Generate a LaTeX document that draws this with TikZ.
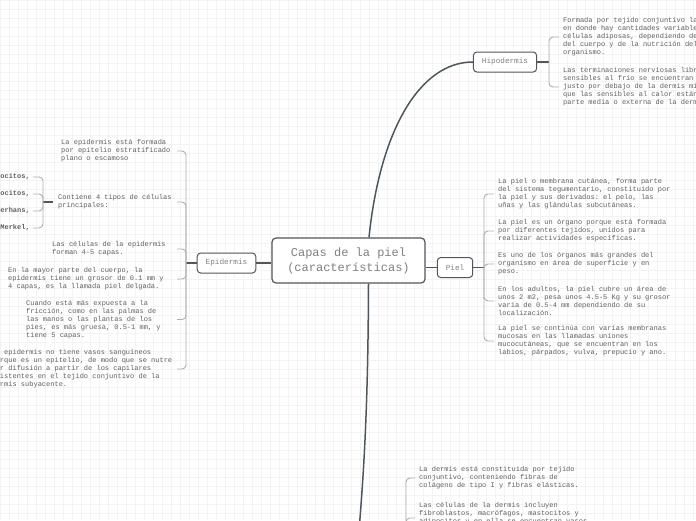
\documentclass[tikz,border=0pt]{standalone}
\usepackage{fontspec}
\setmonofont{Liberation Mono}
\usetikzlibrary{positioning}
\definecolor{inkc}{HTML}{50565C}
\definecolor{brkc}{HTML}{A9AEB3}
\definecolor{txtc}{HTML}{606060}
\definecolor{labc}{HTML}{808080}
\definecolor{gridc}{HTML}{F3F3F3}

\tikzset{
  central/.style={draw=inkc,line width=1.2pt,rounded corners=4pt,fill=white,text=labc,
    font=\ttfamily\fontsize{12}{15}\selectfont,align=center,
    minimum width=153pt,minimum height=45pt,inner sep=0pt},
  topic/.style={draw=inkc,line width=1pt,rounded corners=3.5pt,fill=white,text=labc,
    font=\ttfamily\fontsize{7.7}{9}\selectfont,minimum height=20pt,inner xsep=8.5pt,inner ysep=0pt},
  note/.style={text=txtc,font=\ttfamily\fontsize{7}{8}\selectfont,align=left,inner xsep=4pt,inner ysep=1pt,anchor=west},
  lnote/.style={note,inner xsep=1pt},
  leaf/.style={text=txtc,font=\ttfamily\bfseries\fontsize{7}{8}\selectfont,inner xsep=3pt,inner ysep=1pt,anchor=east},
  link/.style={draw=inkc,line width=1.2pt},
  brk/.style={draw=brkc,line width=0.9pt,rounded corners=4pt},
}

\begin{document}
\begin{tikzpicture}[x=1pt,y=-1pt]
  \clip (0,0) rectangle (696,520);
  \fill[white] (0,0) rectangle (696,520);
  \foreach \gx in {0,9,...,693}{\draw[gridc,line width=0.4pt] (\gx,0) -- (\gx,520);}
  \foreach \gy in {0,9,...,513}{\draw[gridc,line width=0.4pt] (0,\gy) -- (696,\gy);}

  % main topics
  \node[central] (center) at (348.5,260.5) {Capas de la piel\\(características)};
  \node[topic] (epi) at (226.5,263) {Epidermis};
  \node[topic] (piel) at (455,267.5) {Piel};
  \node[topic] (hipo) at (505,62) {Hipodermis};
  \coordinate (derm) at (355,575);

  \draw[link] (epi.east) -- (epi.east -| center.west);
  \draw[link] (piel.west -| center.east) -- (piel.west);
  \draw[link,line width=1.5pt] ([xshift=20.5pt]center.north) .. controls (380,130) and (420,62) .. (hipo.west);
  \draw[link,line width=1.5pt] ([xshift=20pt]center.south) .. controls (368,420) and (363,490) .. (derm);

  % Hipodermis
  \coordinate (hipoJ) at (549,62);
  \node[note] (h1) at (559,37) {Formada por tejido conjuntivo laxo,\\en donde hay cantidades variables de\\células adiposas, dependiendo de la región\\del cuerpo y de la nutrición del\\organismo.};
  \node[note] (h2) at (559,87) {Las terminaciones nerviosas libres\\sensibles al frío se encuentran\\justo por debajo de la dermis mientras\\que las sensibles al calor están en la\\parte media o externa de la dermis.};
  \draw[link] (hipo.east) -- (hipoJ);
  \foreach \t in {h1,h2}{\draw[brk] (hipoJ) |- (\t.west);}

  % Piel
  \coordinate (pielJ) at (484,267.5);
  \node[note] (p1) at (494,194) {La piel o membrana cutánea, forma parte\\del sistema tegumentario, constituido por\\la piel y sus derivados: el pelo, las\\uñas y las glándulas subcutáneas.};
  \node[note] (p2) at (494,231) {La piel es un órgano porque está formada\\por diferentes tejidos, unidos para\\realizar actividades específicas.};
  \node[note] (p3) at (494,264) {Es uno de los órganos más grandes del\\organismo en área de superficie y en\\peso.};
  \node[note] (p4) at (494,301) {En los adultos, la piel cubre un área de\\unos 2 m2, pesa unos 4.5-5 Kg y su grosor\\varia de 0.5-4 mm dependiendo de su\\localización.};
  \node[note] (p5) at (494,341) {La piel se continúa con varias membranas\\mucosas en las llamadas uniones\\mucocutáneas, que se encuentran en los\\labios, párpados, vulva, prepucio y ano.};
  \draw[link] (piel.east) -- (pielJ);
  \foreach \t in {p1,p2,p3,p4,p5}{\draw[brk] (pielJ) |- (\t.west);}

  % Epidermis
  \coordinate (epiJ) at (186,263);
  \coordinate (epiT) at (177,263);
  \node[lnote] (e1) at (60,151) {La epidermis está formada\\por epitelio estratificado\\plano o escamoso};
  \node[lnote] (e2) at (57,202) {Contiene 4 tipos de células\\principales:};
  \node[lnote] (e3) at (51,249) {Las células de la epidermis\\forman 4-5 capas.};
  \node[lnote] (e4) at (7,279) {En la mayor parte del cuerpo, la\\epidermis tiene un grosor de 0.1 mm y\\4 capas, es la llamada piel delgada.};
  \node[lnote] (e5) at (25,319.5) {Cuando está más expuesta a la\\fricción, como en las palmas de\\las manos o las plantas de los\\pies, es más gruesa, 0.5-1 mm, y\\tiene 5 capas.};
  \node[lnote] (e6) at (-9.6,369) {La epidermis no tiene vasos sanguíneos\\porque es un epitelio, de modo que se nutre\\por difusión a partir de los capilares\\existentes en el tejido conjuntivo de la\\dermis subyacente.};
  \draw[link] (epi.west) -- (epiJ);
  \foreach \t in {e1,e2,e3,e4,e5,e6}{\draw[brk] (epiJ) |- (\t.east -| epiT);}

  % tipos de celulas
  \coordinate (celJ) at (43,202);
  \node[leaf] (c1) at (33,177) {Queratinocitos,};
  \node[leaf] (c2) at (33,194) {Melanocitos,};
  \node[leaf] (c3) at (33,211) {Células de Langerhans,};
  \node[leaf] (c4) at (33,228) {Células de Merkel,};
  \draw[link] ([xshift=-4pt]e2.west) -- (celJ);
  \foreach \t in {c1,c2,c3,c4}{\draw[brk] (celJ) |- (\t.east);}

  % Dermis
  \coordinate (dermJ) at (406,545);
  \node[note] (d1) at (415,478) {La dermis está constituida por tejido\\conjuntivo, conteniendo fibras de\\colágeno de tipo I y fibras elásticas.};
  \node[note] (d2) at (415,518) {Las células de la dermis incluyen\\fibroblastos, macrófagos, mastocitos y\\adipocitos y en ella se encuentran vasos\\sanguíneos, linfáticos y nervios.};
  \foreach \t in {d1,d2}{\draw[brk] (dermJ) |- (\t.west);}
\end{tikzpicture}
\end{document}
